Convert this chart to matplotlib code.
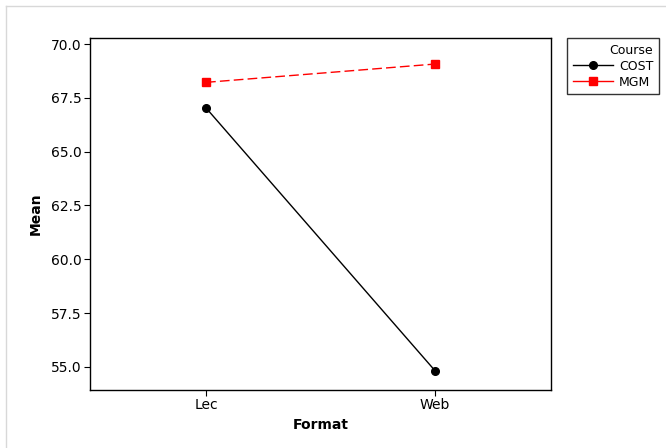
import matplotlib
matplotlib.use("Agg")
import matplotlib.pyplot as plt
from matplotlib.lines import Line2D

formats = ["Lec", "Web"]
cost_means = [67.03, 54.83]
mgm_means = [68.22, 69.07]
yticks = [55.0, 57.5, 60.0, 62.5, 65.0, 67.5, 70.0]

fig = plt.figure(figsize=(6.66, 4.48), dpi=100)
# light gray page border (top and left only visible)
fig.lines.append(Line2D([6/666, 6/666], [0, 1 - 6/448], transform=fig.transFigure, color="#d8d8d8", linewidth=1))
fig.lines.append(Line2D([6/666, 1], [1 - 6/448, 1 - 6/448], transform=fig.transFigure, color="#d8d8d8", linewidth=1))

ax = fig.add_axes([90/666, 1 - 390/448, (551-90)/666, (390-38)/448])
x = list(range(len(formats)))
ax.plot(x, cost_means, color="black", linestyle="-", marker="o", markersize=5.5, linewidth=1)
ax.plot(x, mgm_means, color="red", linestyle=(0, (7, 3)), marker="s", markersize=5.5, linewidth=1)
ax.set_xlim(-0.507, 1.507)
ax.set_ylim(53.93, 70.28)
ax.set_xticks(x)
ax.set_xticklabels(formats)
ax.set_yticks(yticks)
ax.set_yticklabels([f"{v:.1f}" for v in yticks])
ax.tick_params(labelsize=10, length=4, width=0.8, colors="black", pad=2)
ax.set_xlabel("Format", fontsize=10, fontweight="bold", labelpad=4)
ax.set_ylabel("Mean", fontsize=10, fontweight="bold", labelpad=6)
for s in ax.spines.values():
    s.set_linewidth(1)

handles = [
    Line2D([], [], color="black", linestyle="-", marker="o", markersize=5.5, linewidth=1),
    Line2D([], [], color="red", linestyle="-", marker="s", markersize=5.5, linewidth=1),
]
leg = ax.legend(handles, ["COST", "MGM"], title="Course", loc="upper left",
                bbox_to_anchor=(567/666, 1 - 38/448),
                bbox_transform=fig.transFigure, fontsize=9, title_fontsize=9,
                frameon=True, fancybox=False, edgecolor="black", handlelength=3.2,
                borderaxespad=0, labelspacing=0.25, handletextpad=0.5, borderpad=0.45)
leg._legend_box.align = "right"
leg.get_frame().set_linewidth(1)

fig.savefig("out.png", dpi=100)
